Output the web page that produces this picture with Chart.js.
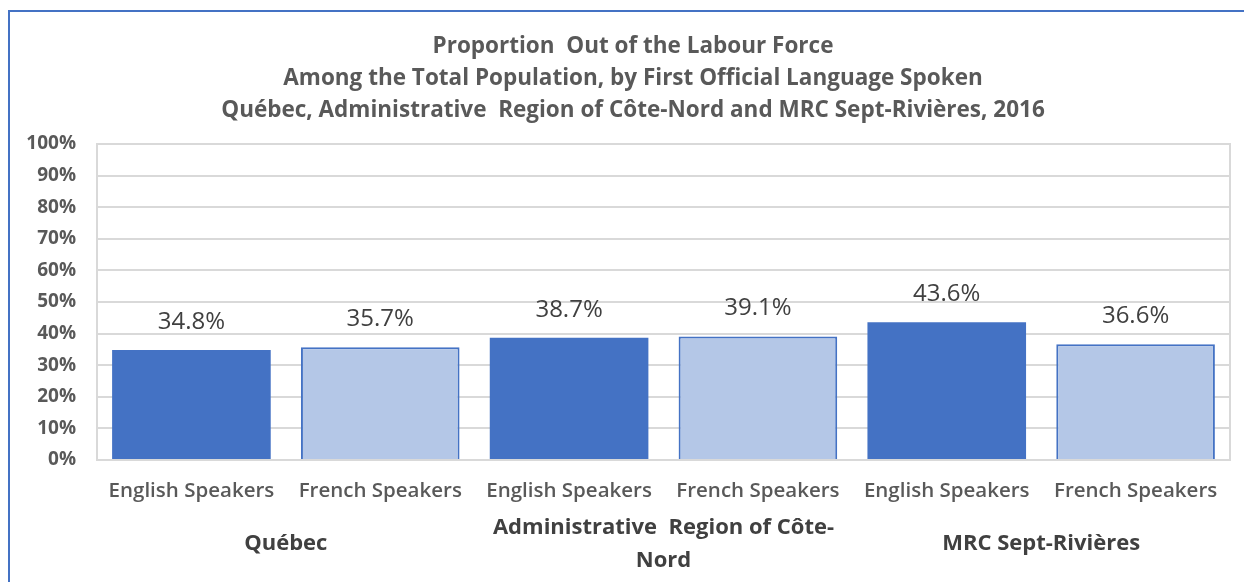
<!DOCTYPE html>
<html>
<head>
<meta charset="utf-8">
<script src="https://cdn.jsdelivr.net/npm/chart.js@4/dist/chart.umd.min.js"></script>
<style>
  html, body { margin: 0; padding: 0; background: #fff; }
  #frame { position: absolute; left: 8px; top: 10px; width: 1300px; height: 700px;
           border-left: 2px solid #4472C4; border-top: 2px solid #4472C4; box-sizing: border-box; }
  #wrap { position: absolute; left: 0; top: 0; width: 1244px; height: 582px; }
</style>
</head>
<body>
<div id="frame"></div>
<div id="wrap"><canvas id="c" width="1244" height="582"></canvas></div>
<script>
const titleLines = [
  'Proportion  Out of the Labour Force',
  'Among the Total Population, by First Official Language Spoken',
  'Québec, Administrative  Region of Côte-Nord and MRC Sept-Rivières, 2016'
];
const categories = ['English Speakers', 'French Speakers', 'English Speakers', 'French Speakers', 'English Speakers', 'French Speakers'];
const values = [34.8, 35.7, 38.7, 39.1, 43.6, 36.6];
const groups = [['Québec'], ['Administrative  Region of Côte-', 'Nord'], ['MRC Sept-Rivières']];
const yTicks = [0, 10, 20, 30, 40, 50, 60, 70, 80, 90, 100];

const FONT = '"Open Sans", sans-serif';
const DARK = '#4472C4';
const LIGHT = '#B4C7E7';

const fillColors = categories.map(c => c.startsWith('English') ? DARK : LIGHT);
const borderColors = categories.map(() => DARK);
const borderWidths = categories.map(c => c.startsWith('English') ? 0 : 2);

const extras = {
  id: 'extras',
  afterLayout(chart) {
    // centre the title block slightly right of the canvas centre, as in the original
    if (chart.titleBlock) { chart.titleBlock.left = 36; }
  },
  beforeDatasetsDraw(chart) {
    const { ctx, chartArea: a } = chart;
    ctx.save();
    ctx.strokeStyle = '#d9d9d9';
    ctx.lineWidth = 2;
    ctx.strokeRect(a.left, a.top, a.right - a.left, a.bottom - a.top);
    ctx.restore();
  },
  afterDatasetsDraw(chart) {
    const { ctx } = chart;
    const meta = chart.getDatasetMeta(0);
    ctx.save();
    ctx.font = '24px ' + FONT;
    ctx.fillStyle = '#404040';
    ctx.textAlign = 'center';
    ctx.textBaseline = 'middle';
    meta.data.forEach((bar, i) => {
      ctx.fillText(values[i].toFixed(1) + '%', bar.x, bar.y - 28);
    });
    // group labels
    const xs = chart.scales.x;
    ctx.font = 'bold 22px ' + FONT;
    ctx.fillStyle = '#404040';
    const lh = 33;
    groups.forEach((lines, g) => {
      const cx = (xs.getPixelForValue(2 * g) + xs.getPixelForValue(2 * g + 1)) / 2;
      const cy = 544;
      lines.forEach((t, k) => {
        const y = cy + (k - (lines.length - 1) / 2) * lh;
        ctx.fillText(t, cx, y);
      });
    });
    ctx.restore();
  }
};

new Chart(document.getElementById('c'), {
  type: 'bar',
  data: {
    labels: categories,
    datasets: [{
      data: values,
      backgroundColor: fillColors,
      borderColor: borderColors,
      borderWidth: borderWidths,
      borderSkipped: 'bottom',
      barPercentage: 0.84,
      categoryPercentage: 1.0
    }]
  },
  options: {
    responsive: false,
    animation: false,
    layout: { padding: { left: 16, right: 14, top: 31, bottom: 77 } },
    plugins: {
      legend: { display: false },
      tooltip: { enabled: false },
      title: {
        display: true,
        text: titleLines,
        color: '#595959',
        font: { family: FONT, size: 22.5, weight: 'bold', lineHeight: '32px' },
        padding: { top: 0, bottom: 17 }
      }
    },
    scales: {
      x: {
        grid: { display: false, drawTicks: false },
        border: { display: true, color: '#d9d9d9', width: 2 },
        ticks: { color: '#595959', font: { family: FONT, size: 20.5, weight: '600' }, padding: 19, maxRotation: 0, autoSkip: false },
        afterFit(s) { s.height = 45; }
      },
      y: {
        min: 0, max: 100,
        afterBuildTicks(s) { s.ticks = yTicks.map(v => ({ value: v })); },
        grid: { color: '#d9d9d9', lineWidth: 2, drawTicks: false },
        border: { display: true, color: '#d9d9d9', width: 2 },
        ticks: { color: '#595959', font: { family: FONT, size: 19, weight: 'bold' }, padding: 21,
                 callback: v => v + '%' },
        afterFit(s) { s.width = 81; }
      }
    }
  },
  plugins: [extras]
});
</script>
</body>
</html>
